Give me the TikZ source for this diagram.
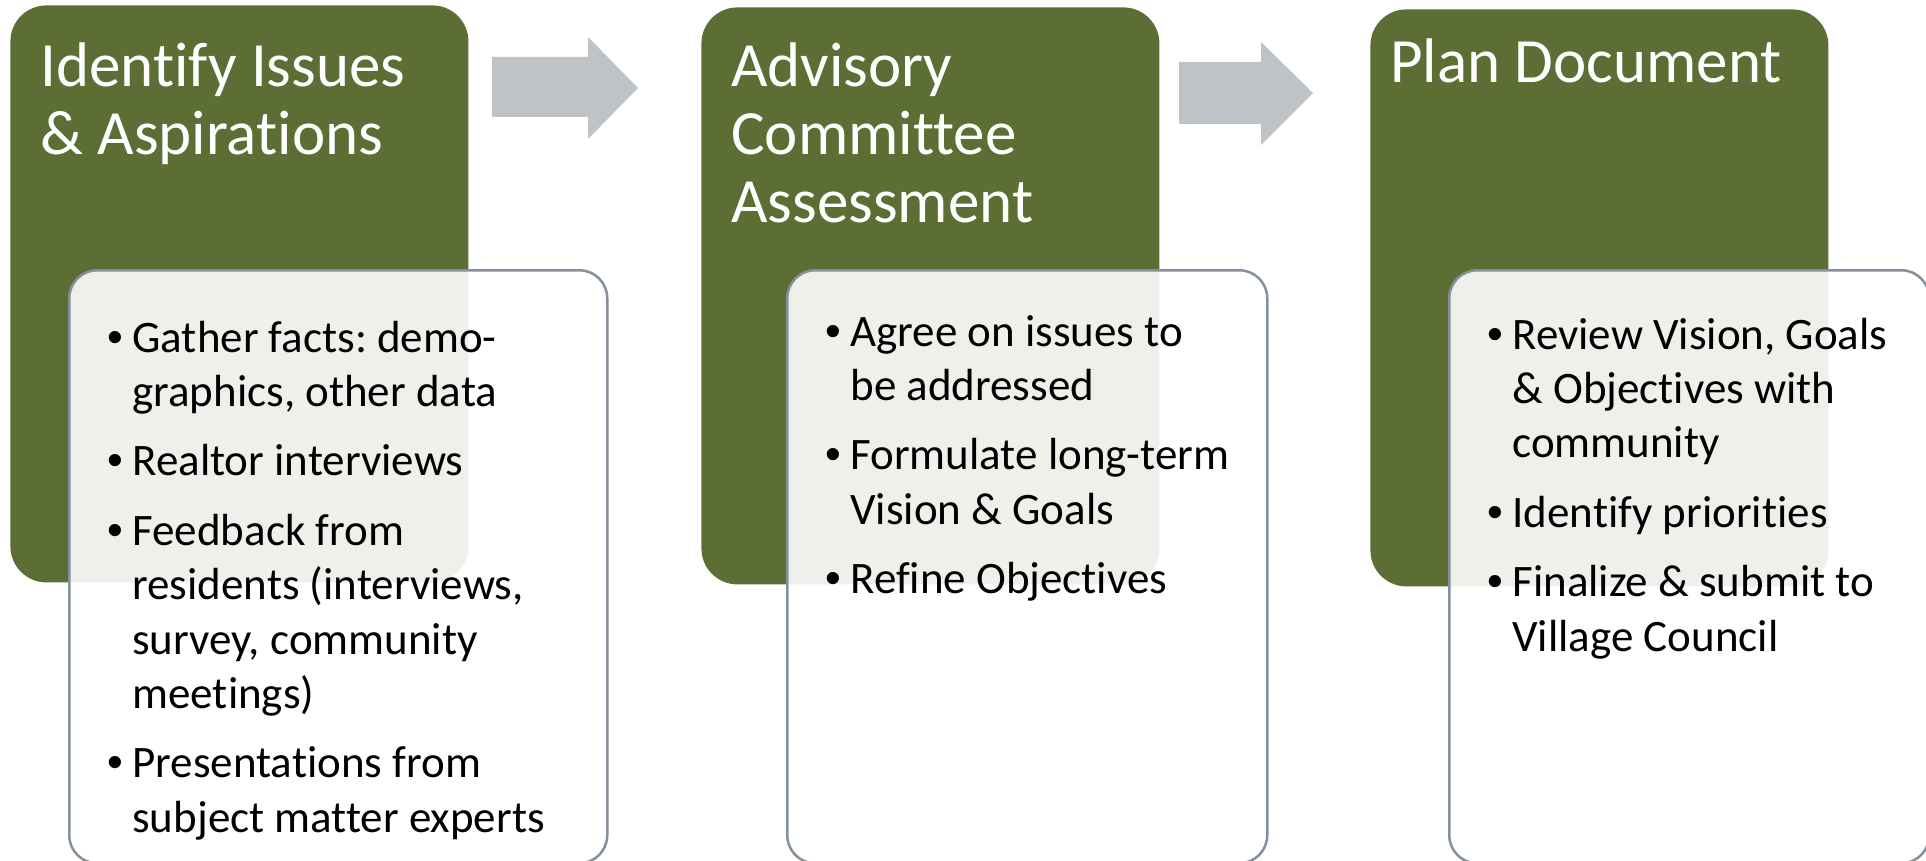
\documentclass[tikz,border=0pt]{standalone}
\usepackage{fontspec}
\setmainfont{Carlito}[Ligatures=NoCommon]
\newfontfamily\bulletfont{Liberation Sans}
\definecolor{stagegreen}{RGB}{92,110,52}
\definecolor{taskline}{RGB}{132,144,155}
\definecolor{flowgrey}{RGB}{192,195,198}
\newcommand{\task}[1]{\par\hangindent=12.6pt\hangafter=1\noindent\makebox[12.6pt][l]{\bulletfont\textbullet}#1\par}
\frenchspacing
\begin{document}
\begin{tikzpicture}[x=1pt,y=1pt]
  \tikzstyle{stage}=[fill=stagegreen, rounded corners=18pt, inner sep=0pt, minimum width=229pt, minimum height=288.5pt, anchor=north west]
  \tikzstyle{tasks}=[draw=taskline, line width=1.25pt, fill=white, fill opacity=0.9, rounded corners=14pt, inner sep=0pt, minimum height=296.5pt, anchor=north west]
  \tikzstyle{title}=[text=white, font=\fontsize{31.5}{34}\selectfont, inner sep=0pt, anchor=base west]
  \tikzstyle{items}=[text=black, font=\fontsize{22.5}{27.2}\selectfont, inner sep=0pt, anchor=base west]
  \tikzstyle{flow}=[fill=flowgrey]
  \useasboundingbox (0,0) rectangle (963,-430.5);
  % stages
  \node[stage] (s1) at (5,-2.5) {};
  \node[stage] (s2) at (350.5,-3.5) {};
  \node[stage] (s3) at (685,-4.5) {};
  \node[title] (t1) at ([xshift=15pt,yshift=-41pt]s1.north west) {\begin{minipage}[t]{220pt}Identify Issues\newline\& Aspirations\end{minipage}};
  \node[title] (t2) at ([xshift=15pt,yshift=-40pt]s2.north west) {\begin{minipage}[t]{220pt}Advisory\newline Committee\newline Assessment\end{minipage}};
  \node[title] (t3) at ([xshift=10pt,yshift=-37pt]s3.north west) {\begin{minipage}[t]{220pt}Plan Document\end{minipage}};
  % arrows
  \fill[flow] (246,-28.5) -- (294,-28.5) -- (294,-18.5) -- (319,-44) -- (294,-69.5) -- (294,-58.5) -- (246,-58.5) -- cycle;
  \fill[flow] (589.5,-31) -- (630.5,-31) -- (630.5,-21) -- (656.5,-46.5) -- (630.5,-72.5) -- (630.5,-62) -- (589.5,-62) -- cycle;
  % task lists
  \node[tasks, minimum width=269pt] (w1) at (34,-134.5) {};
  \node[tasks, minimum width=240pt] (w2) at (393,-134.5) {};
  \node[tasks, minimum width=240pt] (w3) at (724,-134.5) {};
  \node[items] (l1) at ([xshift=19.4pt,yshift=-41.5pt]w1.north west) {\begin{minipage}[t]{245pt}\setlength{\parskip}{7.5pt}
    \task{Gather facts: demo-\newline graphics, other data}
    \task{Realtor interviews}
    \task{Feedback from\newline residents (interviews,\newline survey, community\newline meetings)}
    \task{Presentations from\newline subject matter experts}\end{minipage}};
  \node[items] (l2) at ([xshift=19.4pt,yshift=-38.5pt]w2.north west) {\begin{minipage}[t]{220pt}\setlength{\parskip}{7.5pt}
    \task{Agree on issues to\newline be addressed}
    \task{Formulate long-term\newline Vision \& Goals}
    \task{Refine Objectives}\end{minipage}};
  \node[items] (l3) at ([xshift=19.4pt,yshift=-40pt]w3.north west) {\begin{minipage}[t]{220pt}\setlength{\parskip}{7.5pt}
    \task{Review Vision, Goals\newline\& Objectives with\newline community}
    \task{Identify priorities}
    \task{Finalize \& submit to\newline Village Council}\end{minipage}};
\end{tikzpicture}
\end{document}
